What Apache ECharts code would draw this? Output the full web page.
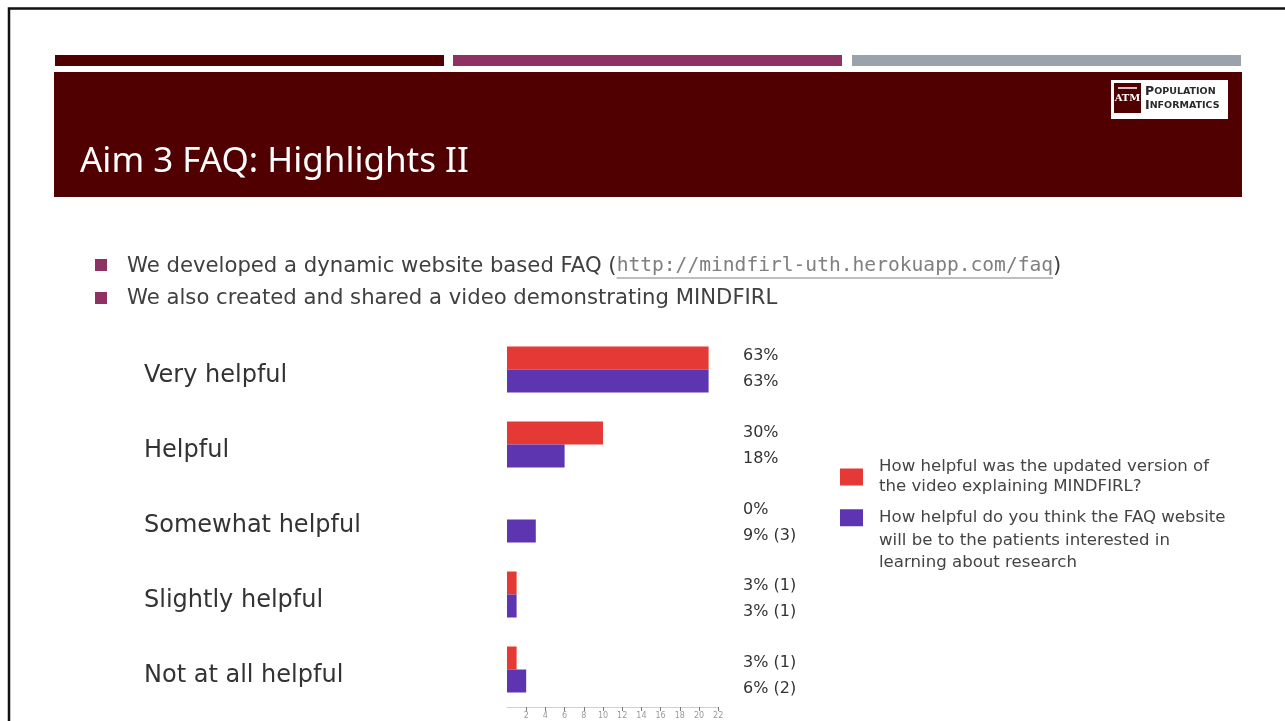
<!DOCTYPE html>
<html>
<head>
<meta charset="utf-8">
<script src="https://cdn.jsdelivr.net/npm/echarts@6/dist/echarts.min.js"></script>
<style>
  html, body { margin: 0; padding: 0; background: #ffffff; }
  #chart { width: 1285px; height: 721px; }
</style>
</head>
<body>
<div id="chart"></div>
<script>
// Survey answers (number of respondents per answer)
const categories = ['Very helpful', 'Helpful', 'Somewhat helpful', 'Slightly helpful', 'Not at all helpful'];
const videoCounts = [21, 10, 0, 1, 1];
const faqCounts = [21, 6, 3, 1, 2];
const respondents = 33;

// Count axis
const xMin = 0;
const xMax = 22;
const xStep = 2;

// Series names (survey questions)
const videoQuestion = 'How helpful was the updated version of\nthe video explaining MINDFIRL?';
const faqQuestion = 'How helpful do you think the FAQ website\nwill be to the patients interested in\nlearning about research';

// Slide text
const slideTitle = 'Aim 3 FAQ: Highlights II';
const bullet1Lead = 'We developed a dynamic website based FAQ (';
const bullet1Link = 'http://mindfirl-uth.herokuapp.com/faq';
const bullet1Tail = ')';
const bullet2Text = 'We also created and shared a video demonstrating MINDFIRL';
const logoLine1 = ['P', 'OPULATION'];
const logoLine2 = ['I', 'NFORMATICS'];

const MAROON = '#500000';
const PLUM = '#8E3264';
const GREY_BAR = '#9AA3AB';
const BODY = '#404040';
const FONT = '"DejaVu Sans", Verdana, sans-serif';
const TITLE_FONT = '"Noto Sans", "Open Sans", sans-serif';
const LINK_FONT = '"DejaVu Sans Mono", monospace';

// Label text: percentage of respondents, plus the raw count for small answers
function answerLabel(v) {
  const pct = Math.floor(v * 100 / respondents);
  return (v > 0 && v <= 3) ? pct + '% (' + v + ')' : pct + '%';
}

// Text measuring for the inline link of the first bullet
const measureCtx = document.createElement('canvas').getContext('2d');
function textWidth(txt, font) {
  measureCtx.font = font;
  return measureCtx.measureText(txt).width;
}

const bodyFont = '21.2px ' + FONT;
const linkFont = '19.6px ' + LINK_FONT;
const bulletX = 127;
const leadW = textWidth(bullet1Lead, bodyFont);
const linkW = textWidth(bullet1Link, linkFont);

const gridLeft = 507;
const gridWidth = 211.2;
const gridTop = 332;
const gridHeight = 375;
const valueLabelX = 743;

// Value labels sit in a column to the right of the plot, next to their bar;
// the column is spaced a little wider than the bar rows
const valueLabelLayout = p => ({
  x: valueLabelX,
  y: p.rect.y + p.rect.height / 2 + p.dataIndex * 1.7 + (p.seriesIndex === 0 ? -2 : 1),
  align: 'left',
  verticalAlign: 'middle'
});

const chart = echarts.init(document.getElementById('chart'), null, { renderer: 'canvas' });

chart.setOption({
  animation: false,
  backgroundColor: '#ffffff',
  textStyle: { fontFamily: FONT },
  grid: {
    left: gridLeft,
    top: gridTop,
    width: gridWidth,
    height: gridHeight,
    containLabel: false
  },
  xAxis: {
    type: 'value',
    min: xMin,
    max: xMax,
    interval: xStep,
    axisLine: { show: true, lineStyle: { color: '#d0d0d0', width: 1 } },
    axisTick: { show: true, length: 4, lineStyle: { color: '#7a7a7a' } },
    axisLabel: { showMinLabel: false, fontSize: 8, color: '#9a9a9a', margin: 5, fontFamily: FONT },
    splitLine: { show: false }
  },
  yAxis: {
    type: 'category',
    inverse: true,
    data: categories,
    axisLine: { show: false },
    axisTick: { show: false },
    axisLabel: {
      align: 'left',
      verticalAlign: 'top',
      lineHeight: 13,
      margin: gridLeft - 144,
      fontSize: 24,
      color: '#333333',
      fontFamily: FONT
    }
  },
  legend: [
    {
      data: [{ name: videoQuestion }],
      orient: 'vertical',
      left: 840,
      top: 457,
      padding: 0,
      itemWidth: 23,
      itemHeight: 17,
      icon: 'rect',
      selectedMode: false,
      textStyle: { fontSize: 16.6, lineHeight: 20, color: '#444444', fontFamily: FONT, padding: [0, 0, 0, 11] }
    },
    {
      data: [{ name: faqQuestion }],
      orient: 'vertical',
      left: 840,
      top: 461.5,
      padding: 0,
      itemWidth: 23,
      itemHeight: 17,
      icon: 'rect',
      selectedMode: false,
      // two leading blank lines keep the swatch level with the first line of the question
      formatter: name => '\n\n' + name,
      textStyle: { fontSize: 16.6, lineHeight: 22.5, color: '#444444', fontFamily: FONT, padding: [0, 0, 0, 11] }
    }
  ],
  series: [
    {
      name: videoQuestion,
      type: 'bar',
      data: videoCounts,
      barWidth: 23,
      barGap: '0%',
      itemStyle: { color: '#E53935' },
      label: {
        show: true,
        position: 'insideLeft',
        formatter: p => answerLabel(p.value),
        fontSize: 16,
        color: '#333333',
        fontFamily: FONT
      },
      labelLayout: valueLabelLayout
    },
    {
      name: faqQuestion,
      type: 'bar',
      data: faqCounts,
      barWidth: 23,
      barGap: '0%',
      itemStyle: { color: '#5E35B1' },
      label: {
        show: true,
        position: 'insideLeft',
        formatter: p => answerLabel(p.value),
        fontSize: 16,
        color: '#333333',
        fontFamily: FONT
      },
      labelLayout: valueLabelLayout
    }
  ],
  graphic: {
    elements: [
      // frame
      { type: 'rect', shape: { x: 9, y: 8.5, width: 1300, height: 740 }, style: { fill: 'none', stroke: '#111111', lineWidth: 2.5 }, silent: true },
      // header stripes
      { type: 'rect', shape: { x: 55, y: 55, width: 389, height: 11 }, style: { fill: MAROON }, silent: true },
      { type: 'rect', shape: { x: 453, y: 55, width: 389, height: 11 }, style: { fill: PLUM }, silent: true },
      { type: 'rect', shape: { x: 852, y: 55, width: 389, height: 11 }, style: { fill: GREY_BAR }, silent: true },
      // title band
      { type: 'rect', shape: { x: 54, y: 72, width: 1188, height: 125 }, style: { fill: MAROON }, silent: true },
      {
        type: 'text', x: 80, y: 162, silent: true,
        style: { text: slideTitle, fill: '#ffffff', font: '35px ' + TITLE_FONT, verticalAlign: 'middle' }
      },
      // logo
      { type: 'rect', shape: { x: 1111, y: 80, width: 117, height: 39 }, style: { fill: '#ffffff' }, silent: true },
      { type: 'rect', shape: { x: 1114, y: 83, width: 27, height: 30 }, style: { fill: MAROON }, silent: true },
      { type: 'line', shape: { x1: 1118, y1: 88, x2: 1137, y2: 88 }, style: { stroke: '#ffffff', lineWidth: 1.5 }, silent: true },
      {
        type: 'text', x: 1127.5, y: 98.5, silent: true,
        style: { text: 'ATM', fill: '#ffffff', font: 'bold 10px "DejaVu Serif", serif', align: 'center', verticalAlign: 'middle' }
      },
      {
        type: 'text', x: 1145, y: 92, silent: true,
        style: {
          text: '{a|' + logoLine1[0] + '}{b|' + logoLine1[1] + '}',
          verticalAlign: 'middle',
          rich: {
            a: { fontSize: 12.5, fontFamily: FONT, fontWeight: 'bold', fill: '#2a2a2a', color: '#2a2a2a' },
            b: { fontSize: 9.5, fontFamily: FONT, fontWeight: 'bold', fill: '#2a2a2a', color: '#2a2a2a' }
          }
        }
      },
      {
        type: 'text', x: 1145, y: 106, silent: true,
        style: {
          text: '{a|' + logoLine2[0] + '}{b|' + logoLine2[1] + '}',
          verticalAlign: 'middle',
          rich: {
            a: { fontSize: 12.5, fontFamily: FONT, fontWeight: 'bold', fill: '#2a2a2a', color: '#2a2a2a' },
            b: { fontSize: 9.5, fontFamily: FONT, fontWeight: 'bold', fill: '#2a2a2a', color: '#2a2a2a' }
          }
        }
      },
      // bullets
      { type: 'rect', shape: { x: 95, y: 259, width: 12, height: 12 }, style: { fill: PLUM }, silent: true },
      { type: 'rect', shape: { x: 95, y: 292, width: 12, height: 12 }, style: { fill: PLUM }, silent: true },
      {
        type: 'text', x: bulletX, y: 266, silent: true,
        style: { text: bullet1Lead, fill: BODY, font: bodyFont, verticalAlign: 'middle' }
      },
      {
        type: 'text', x: bulletX + leadW, y: 266, silent: true,
        style: { text: bullet1Link, fill: '#7f7f7f', font: linkFont, verticalAlign: 'middle' }
      },
      {
        type: 'line', silent: true,
        shape: { x1: bulletX + leadW, y1: 278, x2: bulletX + leadW + linkW, y2: 278 },
        style: { stroke: '#7f7f7f', lineWidth: 1 }
      },
      {
        type: 'text', x: bulletX + leadW + linkW, y: 266, silent: true,
        style: { text: bullet1Tail, fill: BODY, font: bodyFont, verticalAlign: 'middle' }
      },
      {
        type: 'text', x: bulletX, y: 298, silent: true,
        style: { text: bullet2Text, fill: BODY, font: bodyFont, verticalAlign: 'middle' }
      }
    ]
  }
});
</script>
</body>
</html>
